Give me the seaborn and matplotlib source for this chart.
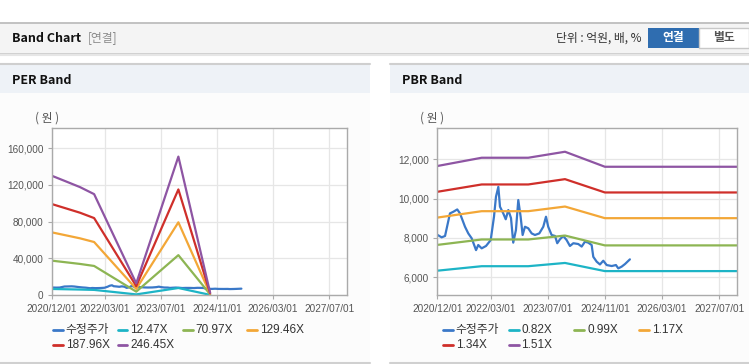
import numpy as np
import pandas as pd
import matplotlib
matplotlib.use('Agg')
import matplotlib.pyplot as plt
from matplotlib.patches import Rectangle
from matplotlib.lines import Line2D
import seaborn as sns

# adjusted share price (same series in both charts)
price_dates = ['2020-12-04', '2021-01-07', '2021-02-05', '2021-03-19', '2021-04-16', '2021-05-20',
               '2021-06-12', '2021-07-25', '2021-08-22', '2021-09-20', '2021-10-27', '2021-11-15',
               '2021-12-14', '2022-01-20', '2022-03-01', '2022-03-29', '2022-04-15', '2022-05-05',
               '2022-05-19', '2022-06-16', '2022-07-07', '2022-07-29', '2022-08-21', '2022-09-09',
               '2022-10-02', '2022-10-22', '2022-11-11', '2022-11-28', '2022-12-18', '2023-01-15',
               '2023-02-13', '2023-03-13', '2023-04-19', '2023-05-23', '2023-06-15', '2023-07-04',
               '2023-08-02', '2023-08-31', '2023-09-19', '2023-10-12', '2023-11-09', '2023-12-08',
               '2024-01-05', '2024-02-03', '2024-03-16', '2024-04-14', '2024-05-12', '2024-06-09',
               '2024-07-08', '2024-07-22', '2024-08-20', '2024-09-17', '2024-10-15', '2024-11-13',
               '2024-12-26', '2025-01-31', '2025-02-20', '2025-03-21', '2025-04-18', '2025-05-30']
price_vals = [8150, 8030, 8100, 9250, 9330, 9450, 9250, 8570, 8230, 7980, 7380, 7640,
              7470, 7590, 7890, 9080, 10100, 10600, 9590, 9250, 8950, 9420, 9010, 7760,
              8400, 9930, 9080, 8150, 8570, 8490, 8230, 8150, 8230, 8570, 9080, 8570,
              8150, 8100, 7730, 7930, 8100, 7890, 7590, 7730, 7690, 7560, 7810, 7760,
              7640, 7040, 6790, 6650, 6840, 6620, 6570, 6620, 6450, 6540, 6670, 6910]

# PER band: EPS path and multiples
per_dates = ['2020-12-01', '2021-04-07', '2021-08-01', '2021-12-01', '2022-12-01', '2023-12-01', '2024-09-01']
per_eps = [527, 501, 477, 446, 51.5, 612, 10]
per_mult = [12.47, 70.97, 129.46, 187.96, 246.45]

# PBR band: BPS path and multiples
pbr_dates = ['2020-12-01', '2021-12-14', '2023-01-15', '2023-11-24', '2024-10-29', '2027-12-01']
pbr_bps = [7722, 8001, 8001, 8203, 7697, 7697]
pbr_mult = [0.82, 0.99, 1.17, 1.34, 1.51]

per_yticks = [0, 40000, 80000, 120000, 160000]
pbr_yticks = [6000, 8000, 10000, 12000]
x_ticks = ['2020-12-01', '2022-03-01', '2023-07-01', '2024-11-01', '2026-03-01', '2027-07-01']
x_labels = ['2020/12/01', '2022/03/01', '2023/07/01', '2024/11/01', '2026/03/01', '2027/07/01']

colors = ['#3a78c8', '#1db4c6', '#8db553', '#f3a737', '#cf2f2a', '#8e55a3']

sns.set_style('white')
plt.rcParams['font.family'] = ['Liberation Sans', 'Noto Sans CJK KR']
KR = ['Noto Sans CJK KR', 'DejaVu Sans']

W, H = 749, 364
fig = plt.figure(figsize=(W / 100, H / 100), dpi=100)


def rect(x0, y0, x1, y1, **kw):
    fig.patches.append(Rectangle((x0 / W, 1 - y1 / H), (x1 - x0) / W, (y1 - y0) / H,
                                 transform=fig.transFigure, zorder=-10, **kw))


def hline(x0, x1, y, color, lw=1.0, z=-5):
    fig.add_artist(Line2D([x0 / W, x1 / W], [1 - y / H, 1 - y / H], color=color, lw=lw,
                          transform=fig.transFigure, zorder=z))


def text(x, y, s, **kw):
    fig.text(x / W, 1 - y / H, s, va='center', **kw)


# page header
hline(0, W, 22.5, '#b8b8b8', 1.2)
rect(0, 23, W, 53, color='#f4f4f4', lw=0)
hline(0, W, 53.5, '#c8c8c8', 1.2)
hline(0, W, 55, '#e6e6e6', 1.5)
text(12, 38, 'Band Chart', fontsize=9, fontweight='bold', color='#111111', family=KR)
text(88, 38, '[연결]', fontsize=8.5, color='#8a8a8a', family=KR)
text(642, 38, '단위 : 억원, 배, %', fontsize=8.5, color='#333333', ha='right', family=KR)
rect(648, 28, 699, 48, color='#2f6db0', lw=0)
text(673.5, 38, '연결', fontsize=8.5, color='white', fontweight='bold', ha='center', family=KR)
rect(699, 28, 749, 48, facecolor='white', edgecolor='#c8c8c8', lw=1)
text(724, 38, '별도', fontsize=8.5, color='#555555', fontweight='bold', ha='center', family=KR)

# panels
for x0, x1, title in [(0, 370, 'PER Band'), (390, W, 'PBR Band')]:
    rect(x0, 64, x1, 93, color='#eef2f7', lw=0)
    rect(x0, 93, x1, 363, color='#fcfcfc', lw=0)
    hline(x0, x1, 64.3, '#cfcfcf', 1.5)
    hline(x0, x1, 363, '#d0d0d0', 1.5)
    text(x0 + 12, 80, title, fontsize=9, fontweight='bold', color='#111111', family=KR)


def band_frame(dates, base, mults):
    frames = [pd.DataFrame({'date': pd.to_datetime(price_dates), 'value': price_vals, 'series': '수정주가'})]
    for m in mults:
        frames.append(pd.DataFrame({'date': pd.to_datetime(dates),
                                    'value': [b * m for b in base],
                                    'series': f'{m:.2f}X'}))
    return pd.concat(frames, ignore_index=True)


def draw(rect_px, df, ylim, yticks, legend_cols, unit_x):
    x0, y0, x1, y1 = rect_px
    ax = fig.add_axes([x0 / W, 1 - y1 / H, (x1 - x0) / W, (y1 - y0) / H])
    ax.set_facecolor('white')
    order = list(dict.fromkeys(df['series']))
    pal = dict(zip(order, colors))
    sns.lineplot(data=df, x='date', y='value', hue='series', hue_order=order, palette=pal,
                 estimator=None, legend=False, linewidth=1.6, ax=ax)
    ax.set_xlim(pd.Timestamp('2020-12-01'), pd.Timestamp('2027-12-01'))
    ax.set_ylim(*ylim)
    ax.set_xticks(pd.to_datetime(x_ticks))
    ax.set_xticklabels(x_labels)
    ax.set_yticks(yticks)
    ax.set_yticklabels([f'{v:,}' for v in yticks])
    ax.set_xlabel('')
    ax.set_ylabel('')
    ax.grid(True, color='#e6e6e6', lw=0.9)
    ax.set_axisbelow(True)
    for s in ax.spines.values():
        s.set_color('#aaaaaa')
        s.set_linewidth(1.0)
    ax.tick_params(axis='both', colors='#aaaaaa', labelcolor='#555555', labelsize=7.2,
                   length=3, width=0.8, direction='out')
    ax.tick_params(axis='x', pad=3.5, bottom=True)
    ax.tick_params(axis='y', pad=3, left=True)
    text(unit_x, 118, '( 원 )', fontsize=8.5, color='#555555', ha='center', family=KR)
    # legend, highcharts-like fixed columns
    for i, name in enumerate(order):
        lx = legend_cols[i % 4]
        ly = 330 if i < 4 else 344.5
        hline(lx, lx + 10, ly, pal[name], 2.0, z=3)
        text(lx + 13, ly, name, fontsize=8.5, color='#333333',
             family=['Liberation Sans', 'Noto Sans CJK KR'])
    return ax


per_df = band_frame(per_dates, per_eps, per_mult)
pbr_df = band_frame(pbr_dates, pbr_bps, pbr_mult)

draw((52, 128, 347, 295), per_df, (0, 182000), per_yticks, [52.7, 117.5, 182.7, 247.3], 47)
draw((437.3, 128.3, 737.3, 295.3), pbr_df, (5080, 13580), pbr_yticks, [442.7, 508.5, 574.3, 639], 432)

fig.savefig('out.png', dpi=100)
